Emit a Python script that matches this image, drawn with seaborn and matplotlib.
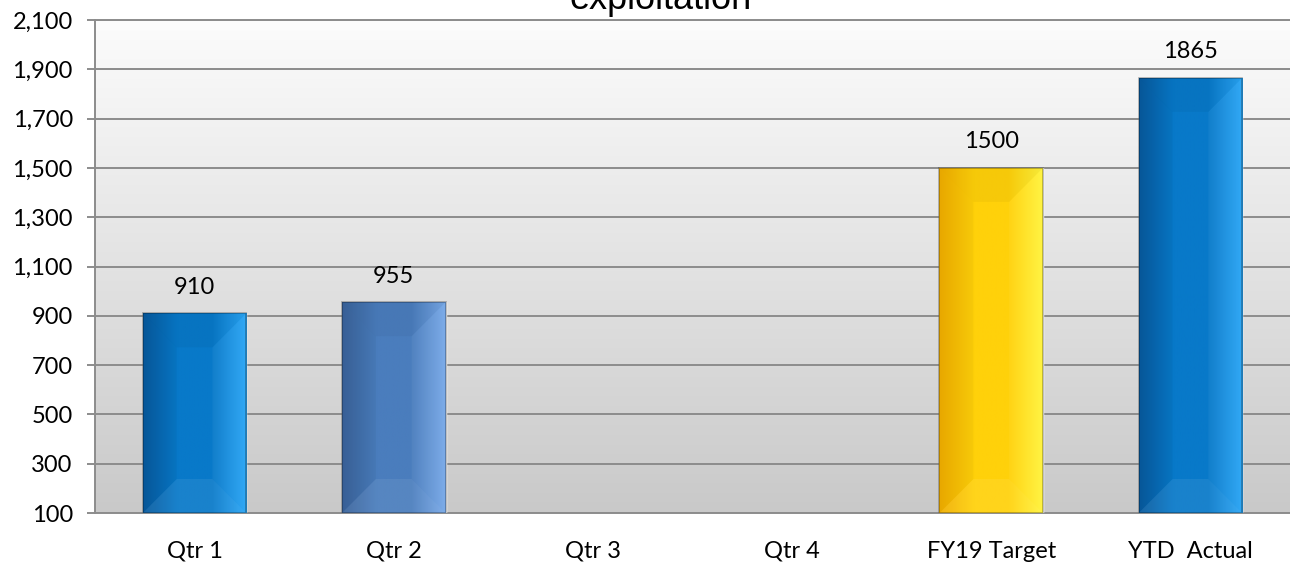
import numpy as np
import pandas as pd
import matplotlib
matplotlib.use("Agg")
import matplotlib.pyplot as plt
import seaborn as sns
from matplotlib.colors import LinearSegmentedColormap
from matplotlib.patches import Polygon

# --- data ---
categories = ["Qtr 1", "Qtr 2", "Qtr 3", "Qtr 4", "FY19 Target", "YTD  Actual"]
values = [910, 955, np.nan, np.nan, 1500, 1865]
y_ticks = list(range(100, 2101, 200))
title_text = "exploitation"

# bar shading: (dark left, middle, light right)
bar_shades = {
    "Qtr 1": ("#075a9e", "#0879c9", "#2aa6f6"),
    "Qtr 2": ("#3a639b", "#4a7dbd", "#78a9e8"),
    "Qtr 3": ("#075a9e", "#0879c9", "#2aa6f6"),
    "Qtr 4": ("#075a9e", "#0879c9", "#2aa6f6"),
    "FY19 Target": ("#f0ad00", "#ffd10a", "#fff43c"),
    "YTD  Actual": ("#075a9e", "#0879c9", "#2aa6f6"),
}

df = pd.DataFrame({"period": categories, "count": values})

sns.set_theme(style="white")
plt.rcParams["font.family"] = ["Lato", "DejaVu Sans"]

W, H = 1290, 563
fig = plt.figure(figsize=(W / 100, H / 100), dpi=100)
ax_left, ax_right, ax_bot, ax_top = 95, 1290, 513, 20
ax = fig.add_axes([ax_left / W, 1 - ax_bot / H, (ax_right - ax_left) / W, (ax_bot - ax_top) / H])

ymin, ymax = 100, 2100
step_px = 199.6
xmin = -0.5
xmax = xmin + (ax_right - ax_left) / step_px
fs = 17

# background gradient (white top -> grey bottom)
bg = LinearSegmentedColormap.from_list("bg", ["#c9c9c9", "#fcfcfc"])
ax.imshow(np.linspace(0, 1, 256).reshape(-1, 1), cmap=bg, origin="lower",
          extent=[0, 1, 0, 1], transform=ax.transAxes, aspect="auto", zorder=0)

sns.barplot(data=df, x="period", y="count", hue="period", order=categories,
            hue_order=categories, palette={k: v[1] for k, v in bar_shades.items()},
            legend=False, width=0.52, ax=ax, zorder=3, errorbar=None)

bevel_x = 34 / step_px
bevel_y = 34 / ((ax_bot - ax_top) / (ymax - ymin))

for p in list(ax.patches):
    h = p.get_height()
    if not np.isfinite(h) or h <= 0:
        continue
    idx = int(round(p.get_x() + p.get_width() / 2))
    dark, mid, light = bar_shades[categories[idx]]
    p.set_y(ymin)
    p.set_height(h - ymin)
    x0, w = p.get_x(), p.get_width()
    y0, y1 = ymin, h
    x1 = x0 + w
    cmap = LinearSegmentedColormap.from_list("b", [dark, mid, mid, light])
    im = ax.imshow(np.linspace(0, 1, 200).reshape(1, -1), cmap=cmap, aspect="auto",
                   extent=[x0, x1, y0, y1], zorder=3.5)
    im.set_clip_path(p)
    bx = min(bevel_x, w / 2)
    # top / bottom / left / right bevel faces, kept subtle
    faces = [
        ([(x0, y1), (x1, y1), (x1 - bx, y1 - bevel_y), (x0 + bx, y1 - bevel_y)], "black", 0.035),
        ([(x0, y0), (x1, y0), (x1 - bx, y0 + bevel_y), (x0 + bx, y0 + bevel_y)], "white", 0.07),
        ([(x0, y0), (x0, y1), (x0 + bx, y1 - bevel_y), (x0 + bx, y0 + bevel_y)], "black", 0.03),
        ([(x1, y0), (x1, y1), (x1 - bx, y1 - bevel_y), (x1 - bx, y0 + bevel_y)], "white", 0.04),
    ]
    for pts, col, a in faces:
        ax.add_patch(Polygon(pts, closed=True, facecolor=col, alpha=a, lw=0, zorder=3.7))
    ax.add_patch(Polygon([(x0, y0), (x0, y1), (x1, y1), (x1, y0)], closed=True,
                         fill=False, edgecolor="black", alpha=0.3, lw=1.2, zorder=3.8))
    ax.annotate(f"{int(h)}", xy=(x0 + w / 2, h), xytext=(0, 14), textcoords="offset points",
                ha="center", va="baseline", fontsize=fs, color="black", zorder=5)

grid_col = "#8c8c8c"
ax.set_xlim(xmin, xmax)
ax.set_ylim(ymin, ymax)
ax.set_yticks(y_ticks)
ax.set_yticklabels([f"{t:,}" for t in y_ticks])
ax.yaxis.grid(True, color=grid_col, linewidth=1.4, zorder=1)
ax.set_axisbelow(False)
for gl in ax.get_ygridlines():
    gl.set_zorder(1)
ax.set_xlabel("")
ax.set_ylabel("")

ax.set_xticks(range(len(categories)))
ax.set_xticklabels(categories)
ax.set_xticks(np.arange(-0.5, len(categories), 1.0), minor=True)
ax.tick_params(axis="x", which="major", length=0, pad=20, labelsize=fs, labelcolor="black")
ax.tick_params(axis="x", which="minor", length=8, width=1.4, color=grid_col, direction="out")
ax.tick_params(axis="y", which="major", length=6, width=1.4, color=grid_col, direction="out",
               pad=10, labelsize=fs, labelcolor="black", left=True)

for side in ["left", "bottom", "top"]:
    ax.spines[side].set_visible(True)
    ax.spines[side].set_color(grid_col)
    ax.spines[side].set_linewidth(1.4)
ax.spines["right"].set_visible(False)

# title sits mostly above the canvas, as in the reference crop
fig.text(661 / W, 1 - 9 / H, title_text, ha="center", va="baseline", fontsize=26,
         family=["Liberation Sans", "DejaVu Sans"], color="black")

fig.savefig("out.png", dpi=100)
